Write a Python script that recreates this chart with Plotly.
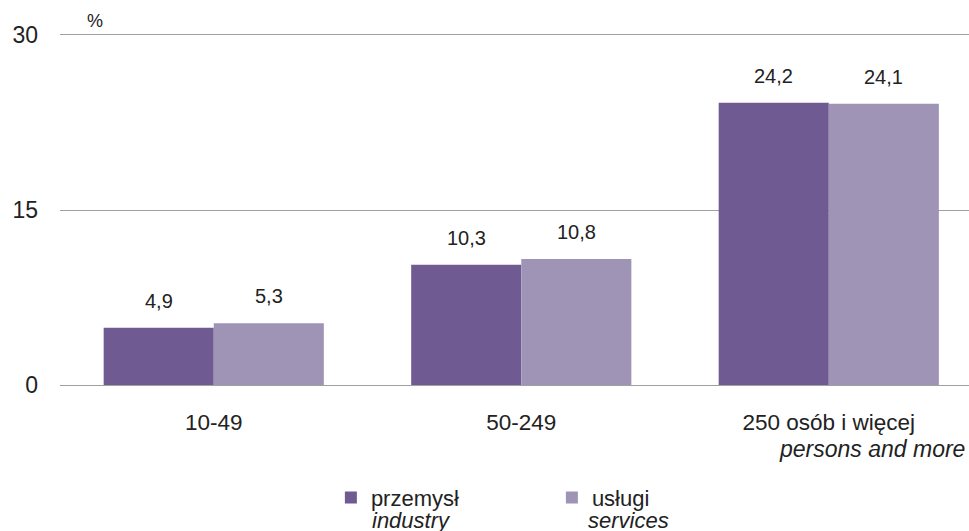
import plotly.graph_objects as go

categories = ["10-49", "50-249", "250 osób i więcej"]
category_note = "persons and more"
przemysl = [4.9, 10.3, 24.2]
uslugi = [5.3, 10.8, 24.1]
series_pl = ["przemysł", "usługi"]
series_en = ["industry", "services"]
y_ticks = [0, 15, 30]

dark = "#6f5b91"
light = "#9f93b6"
grid = "#a0a0a0"
txt = "#222222"
font_main = "Liberation Sans"

x_idx = list(range(len(categories)))

fig = go.Figure()
fig.add_trace(go.Bar(x=x_idx, y=przemysl, name=series_pl[0],
                     marker=dict(color=dark, line=dict(width=0)), offsetgroup="a"))
fig.add_trace(go.Bar(x=x_idx, y=uslugi, name=series_pl[1],
                     marker=dict(color=light, line=dict(width=0)), offsetgroup="b"))

annotations = []
for vals, xs in ((przemysl, -55), (uslugi, 55)):
    for i, v in enumerate(vals):
        annotations.append(dict(x=i, y=v, xref="x", yref="y",
                                text=f"{v:.1f}".replace(".", ","),
                                showarrow=False, xshift=xs, yshift=14, yanchor="bottom",
                                font=dict(family=font_main, size=20, color=txt)))
# italic second line of the last category label
annotations.append(dict(x=0.9978, y=-0.183, xref="paper", yref="paper",
                        text=f"<i>{category_note}</i>", showarrow=False,
                        xanchor="right", yanchor="middle",
                        font=dict(family=font_main, size=23, color=txt)))
# italic second lines of the legend entries
for xp, t in ((0.3410, series_en[0]), (0.5790, series_en[1])):
    annotations.append(dict(x=xp, y=-0.388, xref="paper", yref="paper",
                            text=f"<i>{t}</i>", showarrow=False,
                            xanchor="left", yanchor="middle",
                            font=dict(family=font_main, size=22, color=txt)))
# unit label
annotations.append(dict(x=0, y=1, xref="paper", yref="paper", text="%",
                        showarrow=False, xanchor="center", xshift=35, yshift=2,
                        yanchor="bottom", font=dict(family=font_main, size=18, color=txt)))

fig.update_layout(
    width=969, height=531,
    margin=dict(l=60, r=0, t=35, b=146),
    paper_bgcolor="white", plot_bgcolor="white",
    barmode="group", bargap=0.284, bargroupgap=0,
    font=dict(family=font_main, size=21, color=txt),
    showlegend=True,
    legend=dict(orientation="h", x=0.298, y=-0.262, xanchor="left", yanchor="top",
                font=dict(family=font_main, size=22, color=txt),
                entrywidth=176, entrywidthmode="pixels",
                itemwidth=30, traceorder="normal"),
    annotations=annotations,
    xaxis=dict(range=[-0.5, 2.456], tickvals=x_idx, ticktext=categories,
               showgrid=False, zeroline=False, ticks="",
               showline=True, mirror=True, linecolor=grid, linewidth=1,
               ticklabelstandoff=17,
               tickfont=dict(family=font_main, size=22.5, color=txt)),
    yaxis=dict(range=[0, 30], tickvals=y_ticks, showgrid=True, gridcolor=grid,
               gridwidth=1, zeroline=False, showline=False, ticks="",
               ticklabelstandoff=21,
               tickfont=dict(family=font_main, size=23, color=txt)),
)

fig.write_html("out.html", config={"displayModeBar": False},
               post_script="document.body.style.margin='0';")
